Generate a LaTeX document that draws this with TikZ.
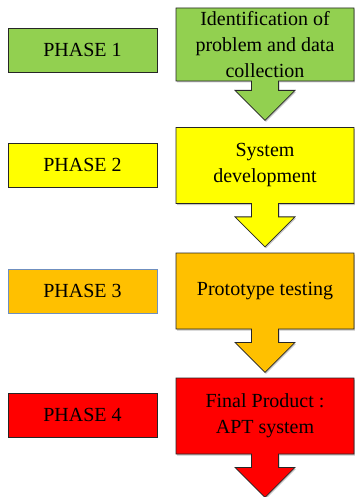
\documentclass[tikz,border=0pt]{standalone}
\usepackage{fontspec}
\setmainfont{Liberation Serif}
\usetikzlibrary{shapes.arrows,shadows,positioning}

\definecolor{phgreen}{HTML}{92D050}
\definecolor{phyellow}{HTML}{FFFF00}
\definecolor{phorange}{HTML}{FFC000}
\definecolor{phred}{HTML}{FF0000}
\definecolor{phblue}{HTML}{6F8FBF}

\begin{document}
\begin{tikzpicture}[x=1pt,y=-1pt]

	\tikzstyle{phase}=[draw=black!85,line width=0.8pt,
		minimum width=149pt,minimum height=44pt,
		font=\fontsize{20}{26}\selectfont]
	\tikzstyle{stage}=[arrow box,draw=black!85,line width=0.8pt,
		minimum width=178pt,minimum height=76pt,
		arrow box shaft width=27pt,arrow box head extend=16.5pt,
		arrow box arrows={south:43pt from border},
		drop shadow={shadow xshift=1pt,shadow yshift=-1.5pt,fill=black!45},
		node distance=182.5pt,align=center,
		font=\fontsize{20}{26}\selectfont]

	\useasboundingbox (0,0) rectangle (355,497);

	\node[phase,fill=phgreen]		(ph1) at (82.5,50)	{PHASE 1};
	\node[phase,fill=phyellow]		(ph2) at (82.5,165)	{PHASE 2};
	\node[phase,fill=phorange,draw=phblue]	(ph3) at (82.5,291)	{PHASE 3};
	\node[phase,fill=phred]		(ph4) at (82.5,415)	{PHASE 4};

	\node[stage,fill=phgreen,right of=ph1,yshift=5.5pt,minimum height=73pt,
		arrow box arrows={south:39pt from border}]	(st1)
		{Identification of\\problem and data\\collection};
	\node[stage,fill=phyellow,right of=ph2,yshift=-0.5pt]	(st2)
		{System\\development};
	\node[stage,fill=phorange,right of=ph3]	(st3)
		{Prototype testing};
	\node[stage,fill=phred,right of=ph4,yshift=-1pt]	(st4)
		{Final Product :\\APT system};

\end{tikzpicture}
\end{document}
